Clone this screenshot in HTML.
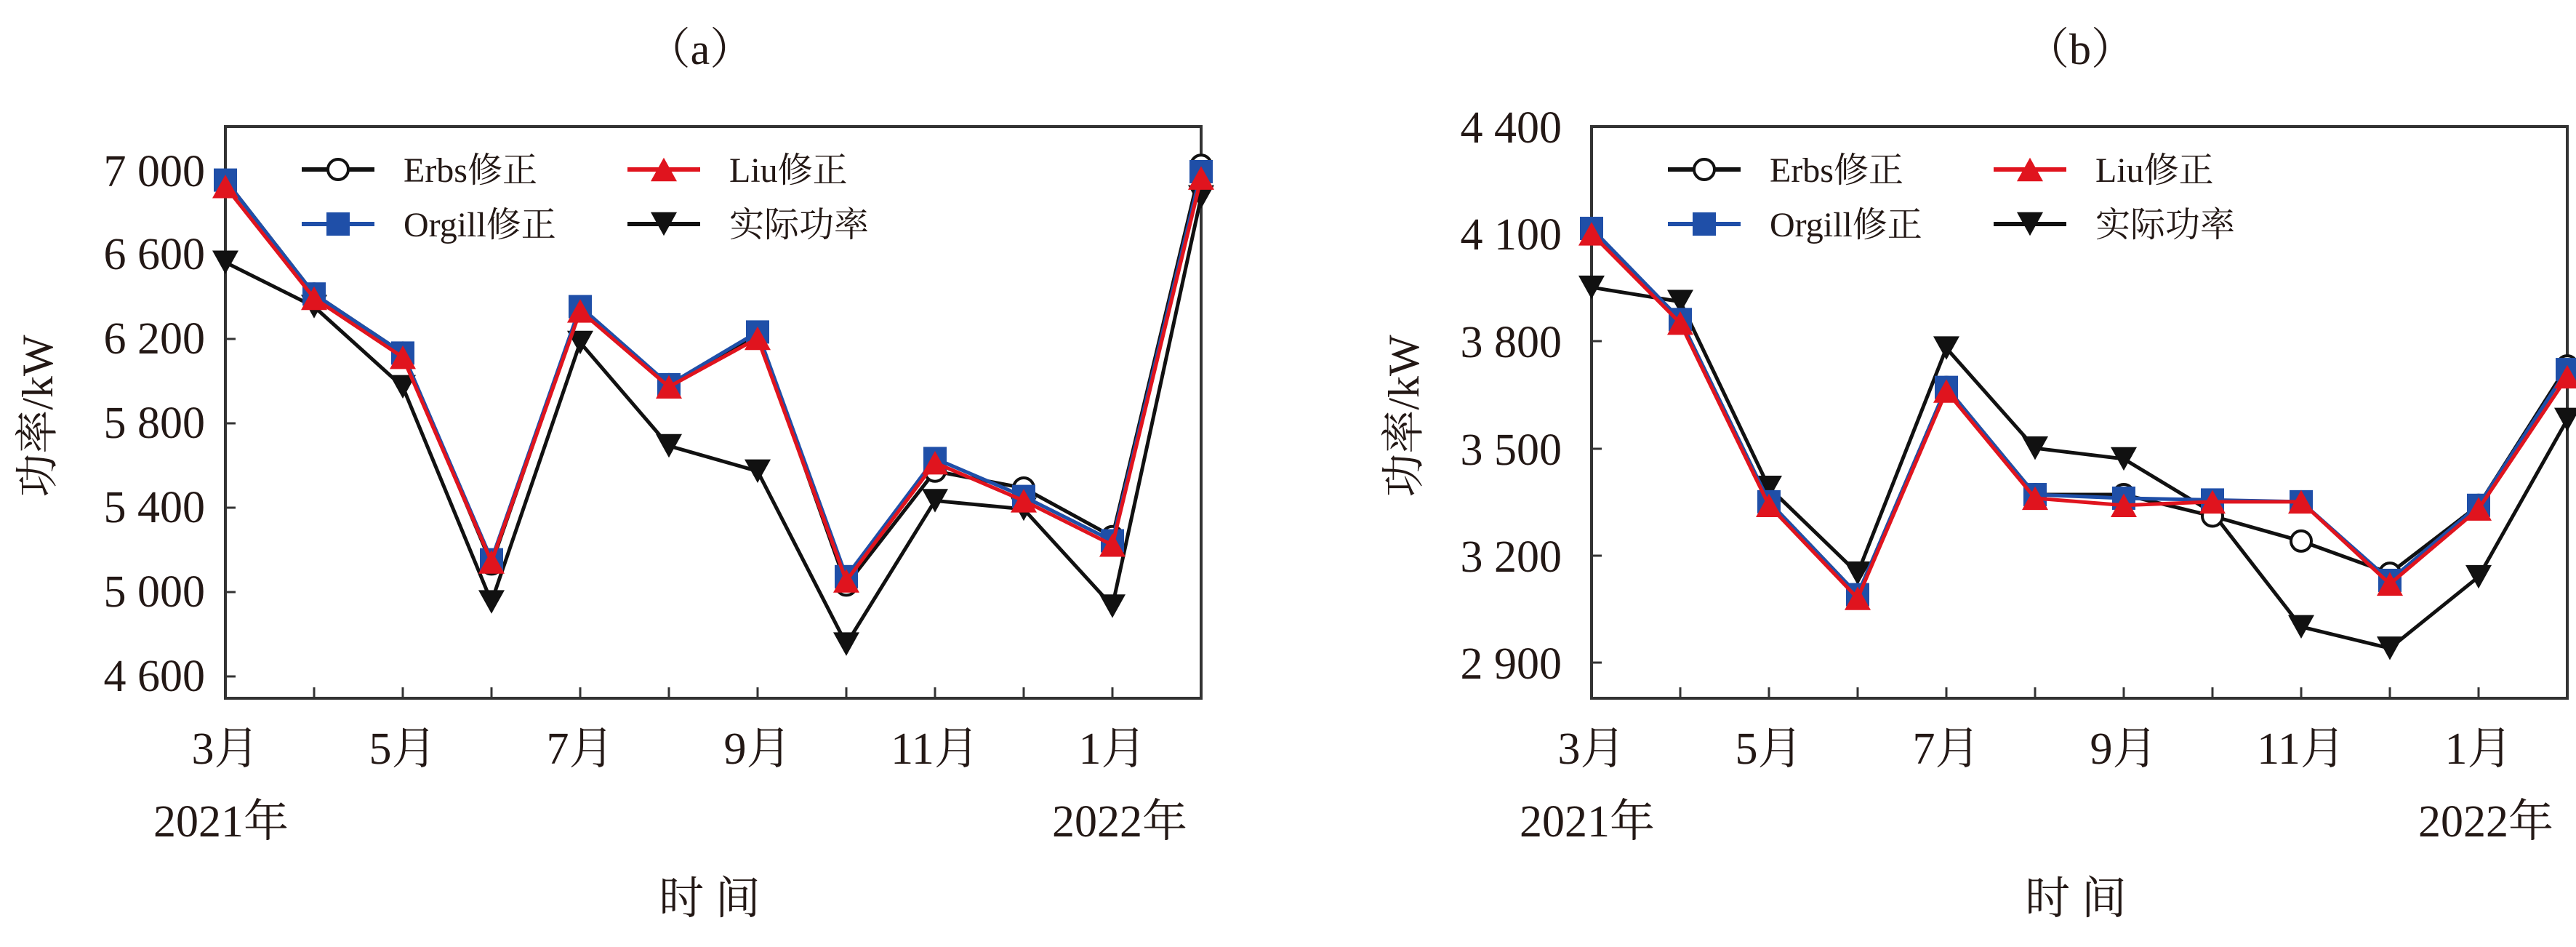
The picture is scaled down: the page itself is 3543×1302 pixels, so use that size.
<!DOCTYPE html>
<html><head><meta charset="utf-8"><style>
html,body{margin:0;padding:0;background:#fff}
svg{display:block}
text{font-family:"Liberation Serif","Noto Serif CJK SC",serif;fill:#231815}
</style></head><body>
<svg id="s" width="3543" height="1302" viewBox="0 0 3543 1302" xmlns="http://www.w3.org/2000/svg">
<rect width="3543" height="1302" fill="#fff"/>
<text x="963" y="88" font-size="60" text-anchor="middle">（a）</text>
<rect x="310" y="174" width="1342" height="786" fill="none" stroke="#333" stroke-width="4"/>
<g font-size="62" text-anchor="end">
<text x="282" y="256">7 000</text><text x="282" y="370">6 600</text><text x="282" y="486">6 200</text>
<text x="282" y="602">5 800</text><text x="282" y="718">5 400</text><text x="282" y="834">5 000</text><text x="282" y="950">4 600</text>
</g>
<g font-size="62" text-anchor="middle">
<text x="310" y="1050">3月</text><text x="554" y="1050">5月</text><text x="798" y="1050">7月</text>
<text x="1042" y="1050">9月</text><text x="1286" y="1050">11月</text><text x="1530" y="1050">1月</text>
<text x="304" y="1150">2021年</text><text x="1540" y="1150">2022年</text>
<text x="976" y="1256">时 间</text>
</g>
<text transform="translate(72,572) rotate(-90)" font-size="60" text-anchor="middle">功率/kW</text>
<text x="2861" y="88" font-size="60" text-anchor="middle">（b）</text>
<rect x="2189" y="174" width="1342" height="786" fill="none" stroke="#333" stroke-width="4"/>
<g font-size="62" text-anchor="end">
<text x="2148" y="196">4 400</text><text x="2148" y="343">4 100</text><text x="2148" y="491">3 800</text>
<text x="2148" y="639">3 500</text><text x="2148" y="786">3 200</text><text x="2148" y="933">2 900</text>
</g>
<g font-size="62" text-anchor="middle">
<text x="2189" y="1050">3月</text><text x="2433" y="1050">5月</text><text x="2677" y="1050">7月</text>
<text x="2921" y="1050">9月</text><text x="3165" y="1050">11月</text><text x="3409" y="1050">1月</text>
<text x="2183" y="1150">2021年</text><text x="3419" y="1150">2022年</text>
<text x="2855" y="1256">时 间</text>
</g>
<text transform="translate(1951,572) rotate(-90)" font-size="60" text-anchor="middle">功率/kW</text>
<g id="g"></g>
</svg>
<script>
var NS="http://www.w3.org/2000/svg",G=document.getElementById('g');
function el(t,a){var e=document.createElementNS(NS,t);for(var k in a)e.setAttribute(k,a[k]);G.appendChild(e);return e;}
function tri(x,y,s,down,c){var h=s*0.9;var p=down?[[x-s/2,y-h/2],[x+s/2,y-h/2],[x,y+h/2]]:[[x-s/2,y+h/2],[x+s/2,y+h/2],[x,y-h/2]];el('polygon',{points:p.map(q=>q.join(',')).join(' '),fill:c});}
function mark(type,x,y){
 if(type=='c')el('circle',{cx:x,cy:y,r:14,fill:'#fff',stroke:'#111','stroke-width':4});
 if(type=='s')el('rect',{x:x-16,y:y-16,width:32,height:32,fill:'#1f4fa8'});
 if(type=='t')tri(x,y,36,false,'#e0141e');
 if(type=='v')tri(x,y,36,true,'#111');
}
function series(x0,yf,vals,color,type){
 var pts=vals.map((v,i)=>[x0+i*122,yf(v)]);
 el('polyline',{points:pts.map(p=>p.join(',')).join(' '),fill:'none',stroke:color,'stroke-width':5});
 pts.forEach(p=>mark(type,p[0],p[1]));
}
function ticks(x0,yvals){
 for(var i=1;i<11;i++)el('line',{x1:x0+i*122,y1:960,x2:x0+i*122,y2:945,stroke:'#333','stroke-width':3});
 yvals.forEach(y=>el('line',{x1:x0,y1:y,x2:x0+14,y2:y,stroke:'#333','stroke-width':3}));
}
function legend(x0){
 var L=[[x0+105,233,'#111','c','Erbs修正'],[x0+105,308,'#1f4fa8','s','Orgill修正'],[x0+553,233,'#e0141e','t','Liu修正'],[x0+553,308,'#111','v','实际功率']];
 L.forEach(l=>{el('line',{x1:l[0],y1:l[1],x2:l[0]+100,y2:l[1],stroke:l[2],'stroke-width':6});mark(l[3],l[0]+50,l[1]);
  var t=el('text',{x:l[0]+140,y:l[1]+17,'font-size':48});t.textContent=l[4];});
}
var ya=v=>236+(7000-v)*0.29;
ticks(310,[236,350,466,582,698,814,930]);
series(310,ya,[6570,6360,5980,4960,6190,5700,5580,4760,5440,5400,4940,6880],'#111','v');
series(310,ya,[6960,6420,6140,5140,6350,5990,6230,5040,5580,5500,5270,7030],'#111','c');
series(310,ya,[6960,6420,6140,5160,6360,5990,6240,5080,5640,5460,5250,7000],'#1f4fa8','s');
series(310,ya,[6930,6400,6120,5150,6340,5980,6210,5060,5620,5440,5230,6970],'#e0141e','t');
legend(310);
var yb=v=>174+(4400-v)*0.4913;
ticks(2189,[174,321,469,617,764,911]);
series(2189,yb,[3950,3910,3390,3150,3780,3500,3470,3320,3000,2940,3140,3580],'#111','v');
series(2189,yb,[4110,3860,3350,3090,3670,3370,3370,3310,3240,3150,3340,3730],'#111','c');
series(2189,yb,[4115,3860,3350,3090,3670,3370,3360,3355,3350,3130,3340,3720],'#1f4fa8','s');
series(2189,yb,[4100,3850,3340,3080,3660,3360,3340,3350,3350,3120,3330,3700],'#e0141e','t');
legend(2189);
</script>
</body></html>
